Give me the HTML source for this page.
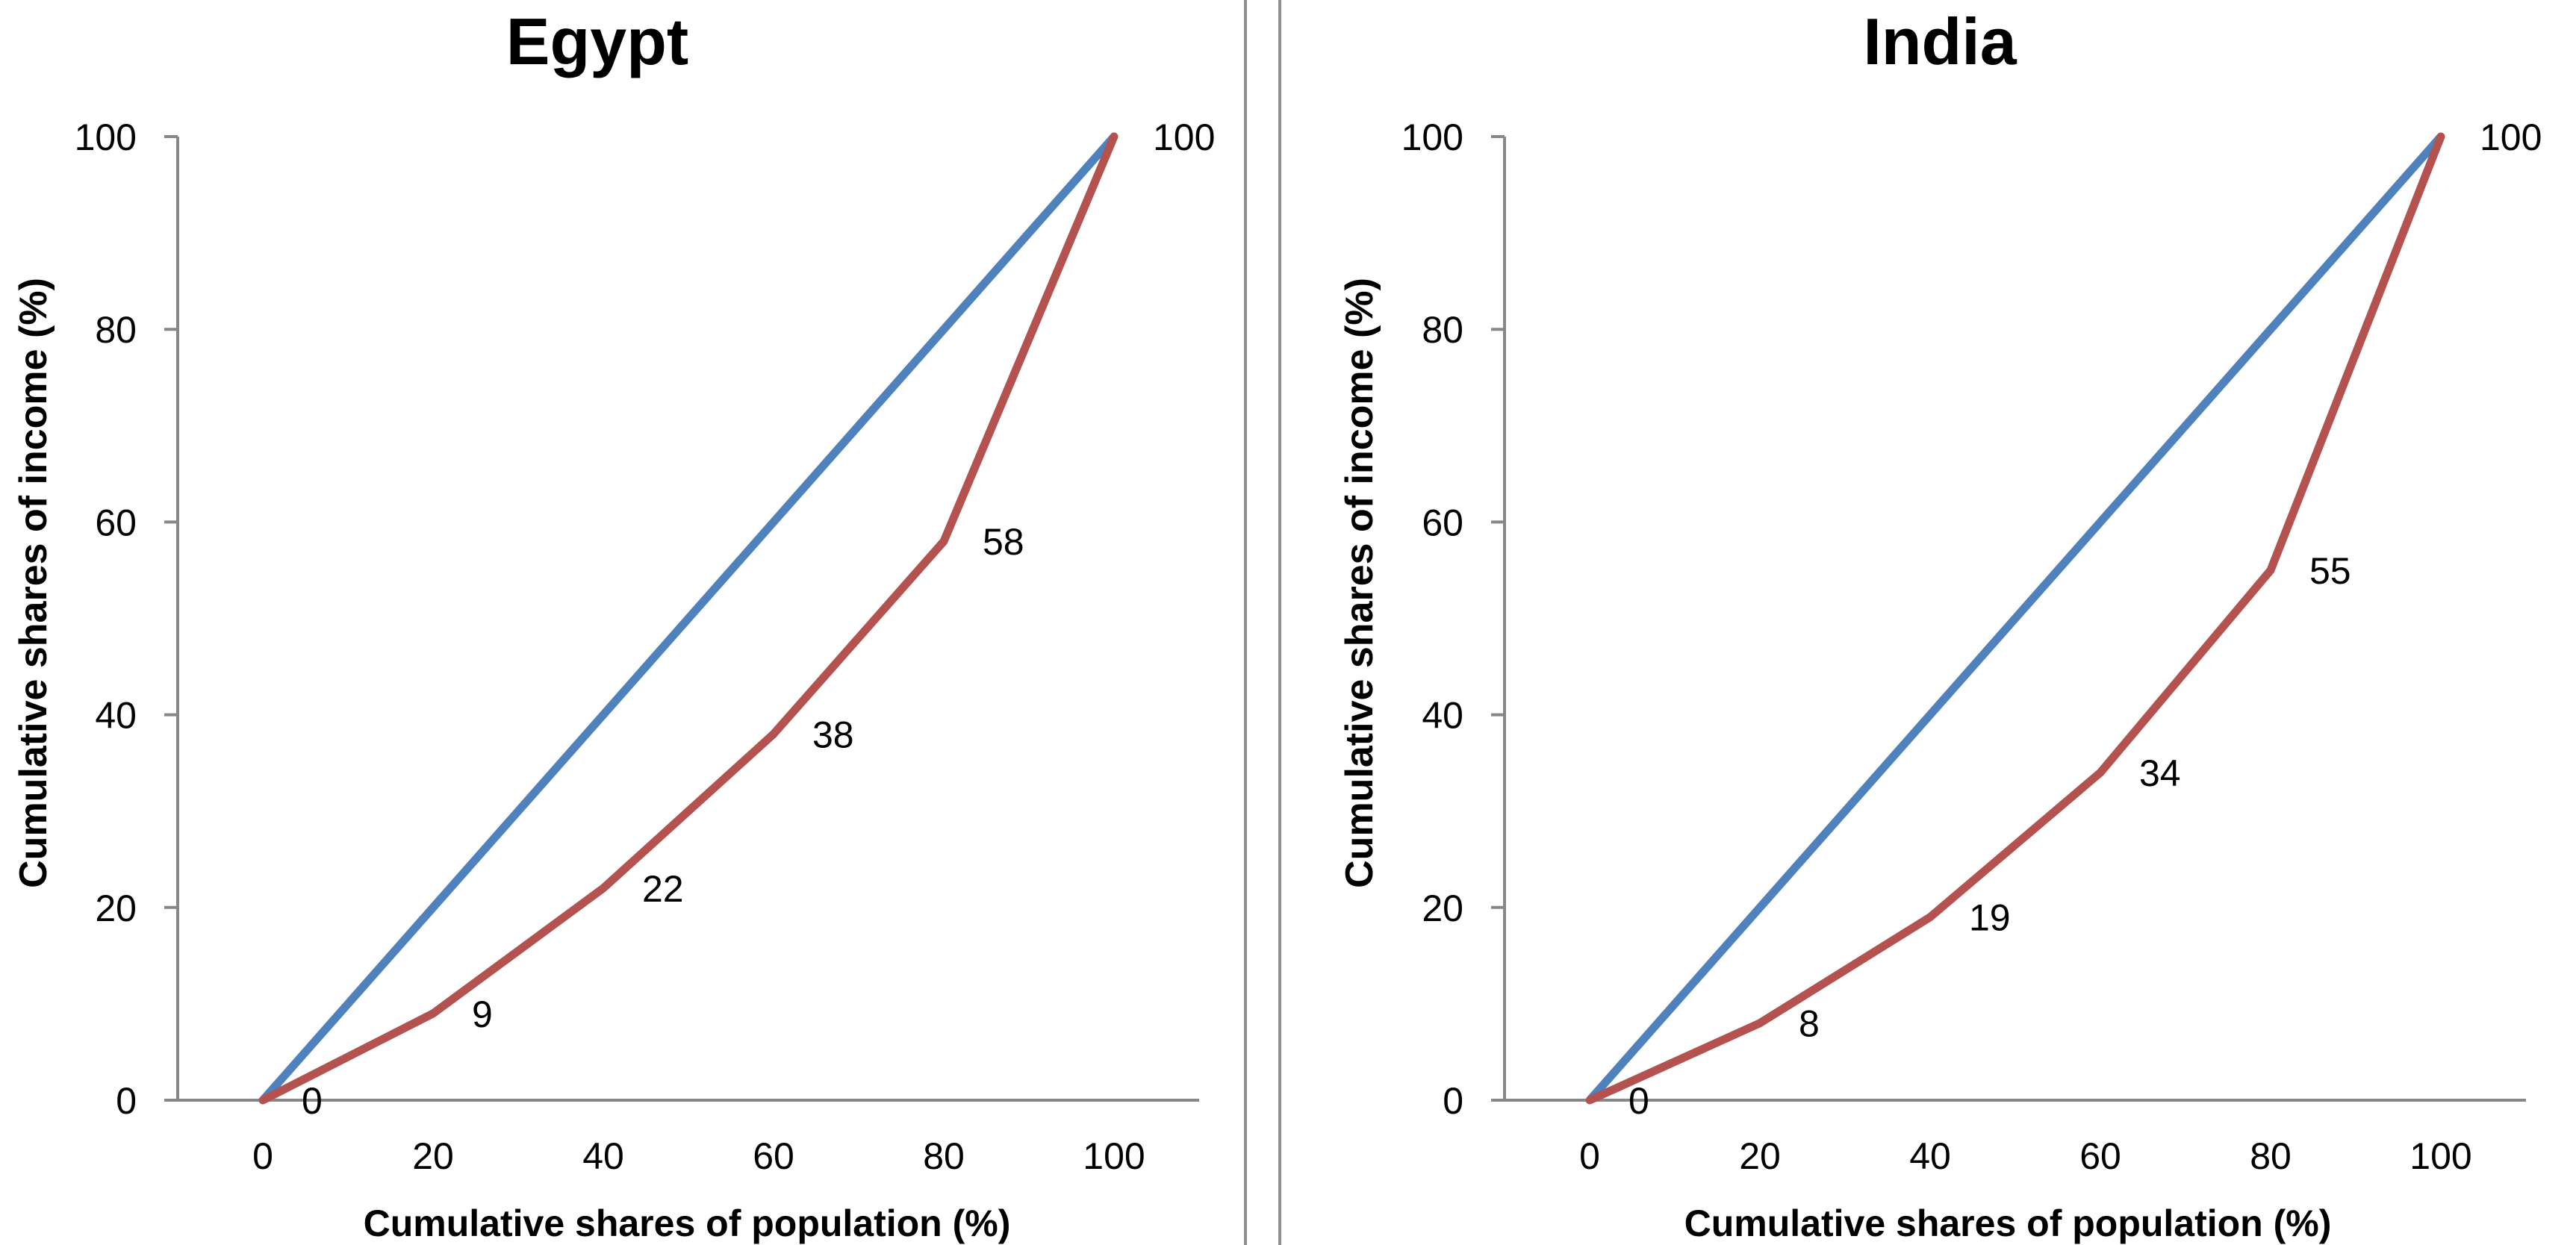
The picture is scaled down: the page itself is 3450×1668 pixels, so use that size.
<!DOCTYPE html>
<html><head><meta charset="utf-8"><style>
html,body{margin:0;padding:0;background:#fff;}
svg{display:block;font-family:"Liberation Sans",sans-serif;}
</style></head><body>
<svg id="chart" width="3450" height="1668" viewBox="0 0 3450 1668">
<line x1="1668" y1="0" x2="1668" y2="1668" stroke="#909090" stroke-width="4"/>
<line x1="1714" y1="0" x2="1714" y2="1668" stroke="#909090" stroke-width="4"/>
</svg>
<script>
const categories = [0, 20, 40, 60, 80, 100];
const equality = [0, 20, 40, 60, 80, 100];
const egyptValues = [0, 9, 22, 38, 58, 100];
const indiaValues = [0, 8, 19, 34, 55, 100];
const yTicks = [0, 20, 40, 60, 80, 100];

const svg = document.getElementById('chart');
const NS = 'http://www.w3.org/2000/svg';
function mk(tag, attrs, parent) {
  const e = document.createElementNS(NS, tag);
  for (const k in attrs) e.setAttribute(k, attrs[k]);
  (parent || svg).appendChild(e);
  return e;
}

function panel(opts) {
  const g = mk('g', {});
  
  
  const axisX = opts.axisX, y0 = 1474, y100 = 183;
  const step = 228;
  const xScale = i => axisX + step / 2 + i * step;
  const yScale = v => y0 - (v / 100) * (y0 - y100);
  const xEnd = axisX + step * categories.length;

  const t = mk('text', {x: opts.titleX, y: 86, 'font-size': 88, 'font-weight': 'bold', 'text-anchor': 'middle', fill: '#000'}, g);
  t.textContent = opts.title;
  
  

  const ya = mk('line', {x1: axisX, y1: y100, x2: axisX, y2: y0, stroke: '#878787', 'stroke-width': 4}, g);
  
  
  const xa = mk('line', {x1: axisX - 18, y1: y0, x2: xEnd, y2: y0, stroke: '#878787', 'stroke-width': 4}, g);
  
  

  yTicks.forEach(v => {
    const tk = mk('line', {x1: axisX - 18, y1: yScale(v), x2: axisX, y2: yScale(v), stroke: '#878787', 'stroke-width': 4}, g);
    
    
    const lb = mk('text', {x: axisX - 55, y: yScale(v) + 18, 'font-size': 50, 'text-anchor': 'end', fill: '#000'}, g);
    lb.textContent = v;
    
    
  });
  categories.forEach((c, i) => {
    const lb = mk('text', {x: xScale(i), y: 1566, 'font-size': 50, 'text-anchor': 'middle', fill: '#000'}, g);
    lb.textContent = c;
    
    
  });

  const yt = mk('text', {x: 0, y: 0, 'font-size': 52, 'font-weight': 'bold', 'text-anchor': 'middle', fill: '#000'}, g);
  yt.setAttribute('transform', 'translate(' + opts.yTitleX + ',' + opts.yTitleY + ') rotate(-90)');
  yt.textContent = 'Cumulative shares of income (%)';
  
  
  const xt = mk('text', {x: opts.xTitleX, y: 1656, 'font-size': 50, 'font-weight': 'bold', 'text-anchor': 'middle', fill: '#000'}, g);
  xt.textContent = 'Cumulative shares of population (%)';
  
  

  const eq = mk('polyline', {points: equality.map((v, i) => xScale(i) + ',' + yScale(v)).join(' '), fill: 'none', stroke: '#4F81BD', 'stroke-width': 11, 'stroke-linejoin': 'round'}, g);
  
  
  const lc = mk('polyline', {points: opts.values.map((v, i) => xScale(i) + ',' + yScale(v)).join(' '), fill: 'none', stroke: '#B3524E', 'stroke-width': 11, 'stroke-linejoin': 'round', 'stroke-linecap': 'round'}, g);
  
  

  opts.values.forEach((v, i) => {
    const lb = mk('text', {x: xScale(i) + 52, y: yScale(v) + 18, 'font-size': 50, fill: '#000'}, g);
    lb.textContent = v;
    
    
  });
}

panel({id: 'egypt', title: 'Egypt', axisX: 238, values: egyptValues, titleX: 800, yTitleX: 62, yTitleY: 781, xTitleX: 920});
panel({id: 'india', title: 'India', axisX: 2015, values: indiaValues, titleX: 2598, yTitleX: 1838, yTitleY: 781, xTitleX: 2689});
</script>
</body></html>
